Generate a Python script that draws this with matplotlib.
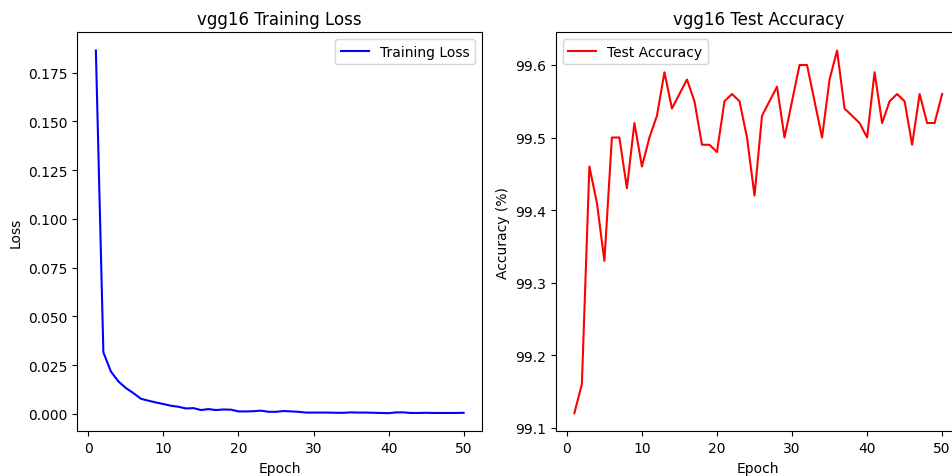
import matplotlib
matplotlib.use("Agg")
import matplotlib.pyplot as plt
import numpy as np

# DATA
epochs = list(range(1, 51))

train_loss = [
    0.1864, 0.0315, 0.0217, 0.0166, 0.0132, 0.0106, 0.0077, 0.0067, 0.0058, 0.0050,
    0.0041, 0.0036, 0.0027, 0.0029, 0.0019, 0.0024, 0.0019, 0.0022, 0.0021, 0.0012,
    0.0012, 0.0013, 0.0016, 0.0010, 0.0010, 0.0014, 0.0012, 0.0010, 0.0006, 0.0006,
    0.0006, 0.0006, 0.0005, 0.0005, 0.0007, 0.0006, 0.0006, 0.0005, 0.0004, 0.0003,
    0.0007, 0.0007, 0.0004, 0.0004, 0.0005, 0.0004, 0.0004, 0.0004, 0.0004, 0.0005,
]

test_acc = [
    99.12, 99.16, 99.46, 99.41, 99.33, 99.50, 99.50, 99.43, 99.52, 99.46,
    99.50, 99.53, 99.59, 99.54, 99.56, 99.58, 99.55, 99.49, 99.49, 99.48,
    99.55, 99.56, 99.55, 99.50, 99.42, 99.53, 99.55, 99.57, 99.50, 99.55,
    99.60, 99.60, 99.55, 99.50, 99.58, 99.62, 99.54, 99.53, 99.52, 99.50,
    99.59, 99.52, 99.55, 99.56, 99.55, 99.49, 99.56, 99.52, 99.52, 99.56,
]

model_name = "vgg16"

# PLOTTING
fig, (ax1, ax2) = plt.subplots(1, 2, figsize = (9.53, 4.77), dpi = 100)

ax1.plot(epochs, train_loss, color = 'blue', label = "Training Loss")
ax1.set_title(f"{model_name} Training Loss")
ax1.set_xlabel("Epoch")
ax1.set_ylabel("Loss")
ax1.legend(loc = 'upper right')

ax2.plot(epochs, test_acc, color = 'red', label = "Test Accuracy")
ax2.set_title(f"{model_name} Test Accuracy")
ax2.set_xlabel("Epoch")
ax2.set_ylabel("Accuracy (%)")
ax2.legend(loc = 'upper left')

# place axes like the cropped original (right panel runs past the edge)
ax1.set_position([0.0813, 0.0937, 0.4245, 0.8364])
ax2.set_position([0.5834, 0.0937, 0.4245, 0.8364])

fig.savefig("out.png", dpi = 100)
plt.close(fig)
